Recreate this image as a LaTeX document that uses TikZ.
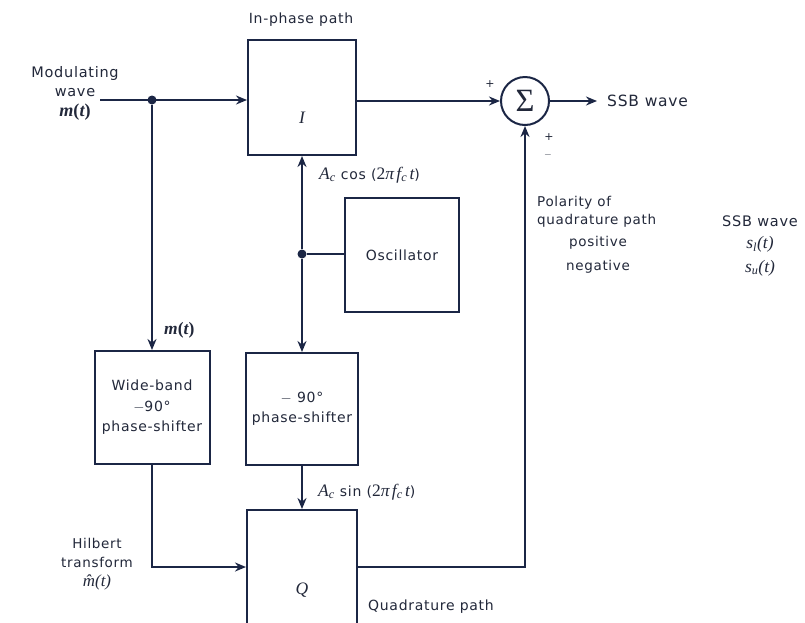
\documentclass[tikz,border=0pt]{standalone}
\usepackage{fontspec}
\setmainfont{DejaVu Sans}[LetterSpace=5]
\newfontfamily\serf{Liberation Serif}[Scale=1.25]
\newcommand\vi[1]{{\serf\itshape #1}}
\newcommand\vb[1]{{\serf\bfseries\itshape #1}}
\newcommand\vsub[1]{\textsubscript{\serf\itshape #1}}
\usetikzlibrary{arrows.meta,positioning,calc}
\definecolor{ln}{HTML}{1B2645}
\definecolor{tx}{HTML}{22283A}
\begin{document}
\begin{tikzpicture}[x=1pt,y=-1pt,
  blk/.style={draw=ln,line width=2pt,rectangle,inner sep=0pt,align=center,text=tx,font=\fontsize{14}{20.5}\selectfont},
  wire/.style={draw=ln,line width=2pt},
  arr/.style={wire,-{Stealth[length=11pt,width=9pt]}},
  lbl/.style={text=tx,inner sep=0pt,font=\fontsize{14}{19.5}\selectfont},
  dotst/.style={circle,fill=ln,inner sep=0pt,minimum size=9pt}]
\useasboundingbox (0,0) rectangle (805,622);
\fill[white] (0,0) rectangle (805,622);
% blocks
\node[blk,minimum width=108pt,minimum height=115pt] (I) at (302,97.5) {};
\node[lbl,font=\fontsize{14}{14}\selectfont] (Itxt) at (302,118) {\vi{I}};
\node[lbl] (inph) at (301,20) {In-phase path};
\node[draw=ln,line width=2pt,circle,minimum size=48pt,inner sep=0pt,text=tx] (sum) at (525,101) {\fontsize{26}{26}\selectfont\serf Σ};
\node[blk,minimum width=114pt,minimum height=114pt] (osc) at (402,255) {Oscillator};
\node[blk,minimum width=115pt,minimum height=113pt] (WB) at (152,407.5) {Wide-band\\$-$90°\\phase-shifter};
\node[blk,minimum width=112pt,minimum height=112pt] (PS) at (302,409) {$-$ 90°\\phase-shifter};
\node[blk,minimum width=110pt,minimum height=114pt] (Q) at (302,567) {};
\node[lbl,font=\fontsize{14}{14}\selectfont] (Qtxt) at (302,590) {\vi{Q}};
% input
\coordinate (in) at (100,100);
\node[dotst] (j1) at (152,100) {};
\node[lbl,align=center,font=\fontsize{14.5}{19.5}\selectfont] (modw) at (75,93) {Modulating\\wave\\\vb{m}{\serf\bfseries(}\vb{t}{\serf\bfseries)}};
\draw[arr] (in) -- (in -| I.west);
\draw[arr] (j1) -- (WB.north);
\node[lbl,anchor=west] (mt) at (164,330) {\vb{m}{\serf\bfseries(}\vb{t}{\serf\bfseries)}};
% I to sum
\draw[arr] (I.east |- sum.west) -- (sum.west);
\node[lbl] (p1) at (490,84) {\fontsize{11}{11}\selectfont +};
\coordinate (out) at (597,101);
\draw[arr] (sum.east) -- (out);
\node[lbl,anchor=west,font=\fontsize{15.5}{16}\selectfont] (ssb) at (607,101) {SSB wave};
% oscillator
\node[dotst] (j2) at (302,254) {};
\draw[wire] (osc.west |- j2) -- (j2);
\draw[arr] (j2) -- (I.south);
\draw[arr] (j2) -- (PS.north);
\node[lbl,anchor=west] (cosl) at (319,175) {\vi{A}\vsub{c} cos ({\serf 2}\vi{π}\,\vi{f}\vsub{c}\,\vi{t})};
\draw[arr] (PS.south) -- (Q.north);
\node[lbl,anchor=west] (sinl) at (318,492) {\vi{A}\vsub{c} sin ({\serf 2}\vi{π}\,\vi{f}\vsub{c}\,\vi{t})};
% Hilbert
\draw[arr] (WB.south) |- (Q.west);
\node[lbl,align=center,font=\fontsize{13.5}{19}\selectfont] (hil) at (97,564) {Hilbert\\transform\\\vi{\^{m}}\vi{(t)}};
% quadrature
\draw[arr] (Q.east) -| (sum.south);
\node[lbl] (p2) at (549,137) {\fontsize{11}{11}\selectfont +};
\node[lbl] (m2) at (548,155) {\fontsize{10}{10}\selectfont $-$};
\node[lbl,anchor=west] (quad) at (368,607) {Quadrature path};
% table
\node[lbl,anchor=west,font=\fontsize{13.5}{14}\selectfont] (pol1) at (537,203) {Polarity of};
\node[lbl,anchor=west,font=\fontsize{13.5}{14}\selectfont] (pol2) at (537,221) {quadrature path};
\node[lbl,font=\fontsize{13.5}{14}\selectfont] (pos) at (598,243) {positive};
\node[lbl,font=\fontsize{13.5}{14}\selectfont] (neg) at (598,267) {negative};
\node[lbl,anchor=west,font=\fontsize{14.5}{14}\selectfont] (ssb2) at (722,221) {SSB wave};
\node[lbl,font=\fontsize{14}{14}\selectfont] (sl) at (760,244) {\vi{s}\vsub{l}\vi{(t)}};
\node[lbl,font=\fontsize{14}{14}\selectfont] (su) at (760,268) {\vi{s}\vsub{u}\vi{(t)}};
\end{tikzpicture}
\end{document}
